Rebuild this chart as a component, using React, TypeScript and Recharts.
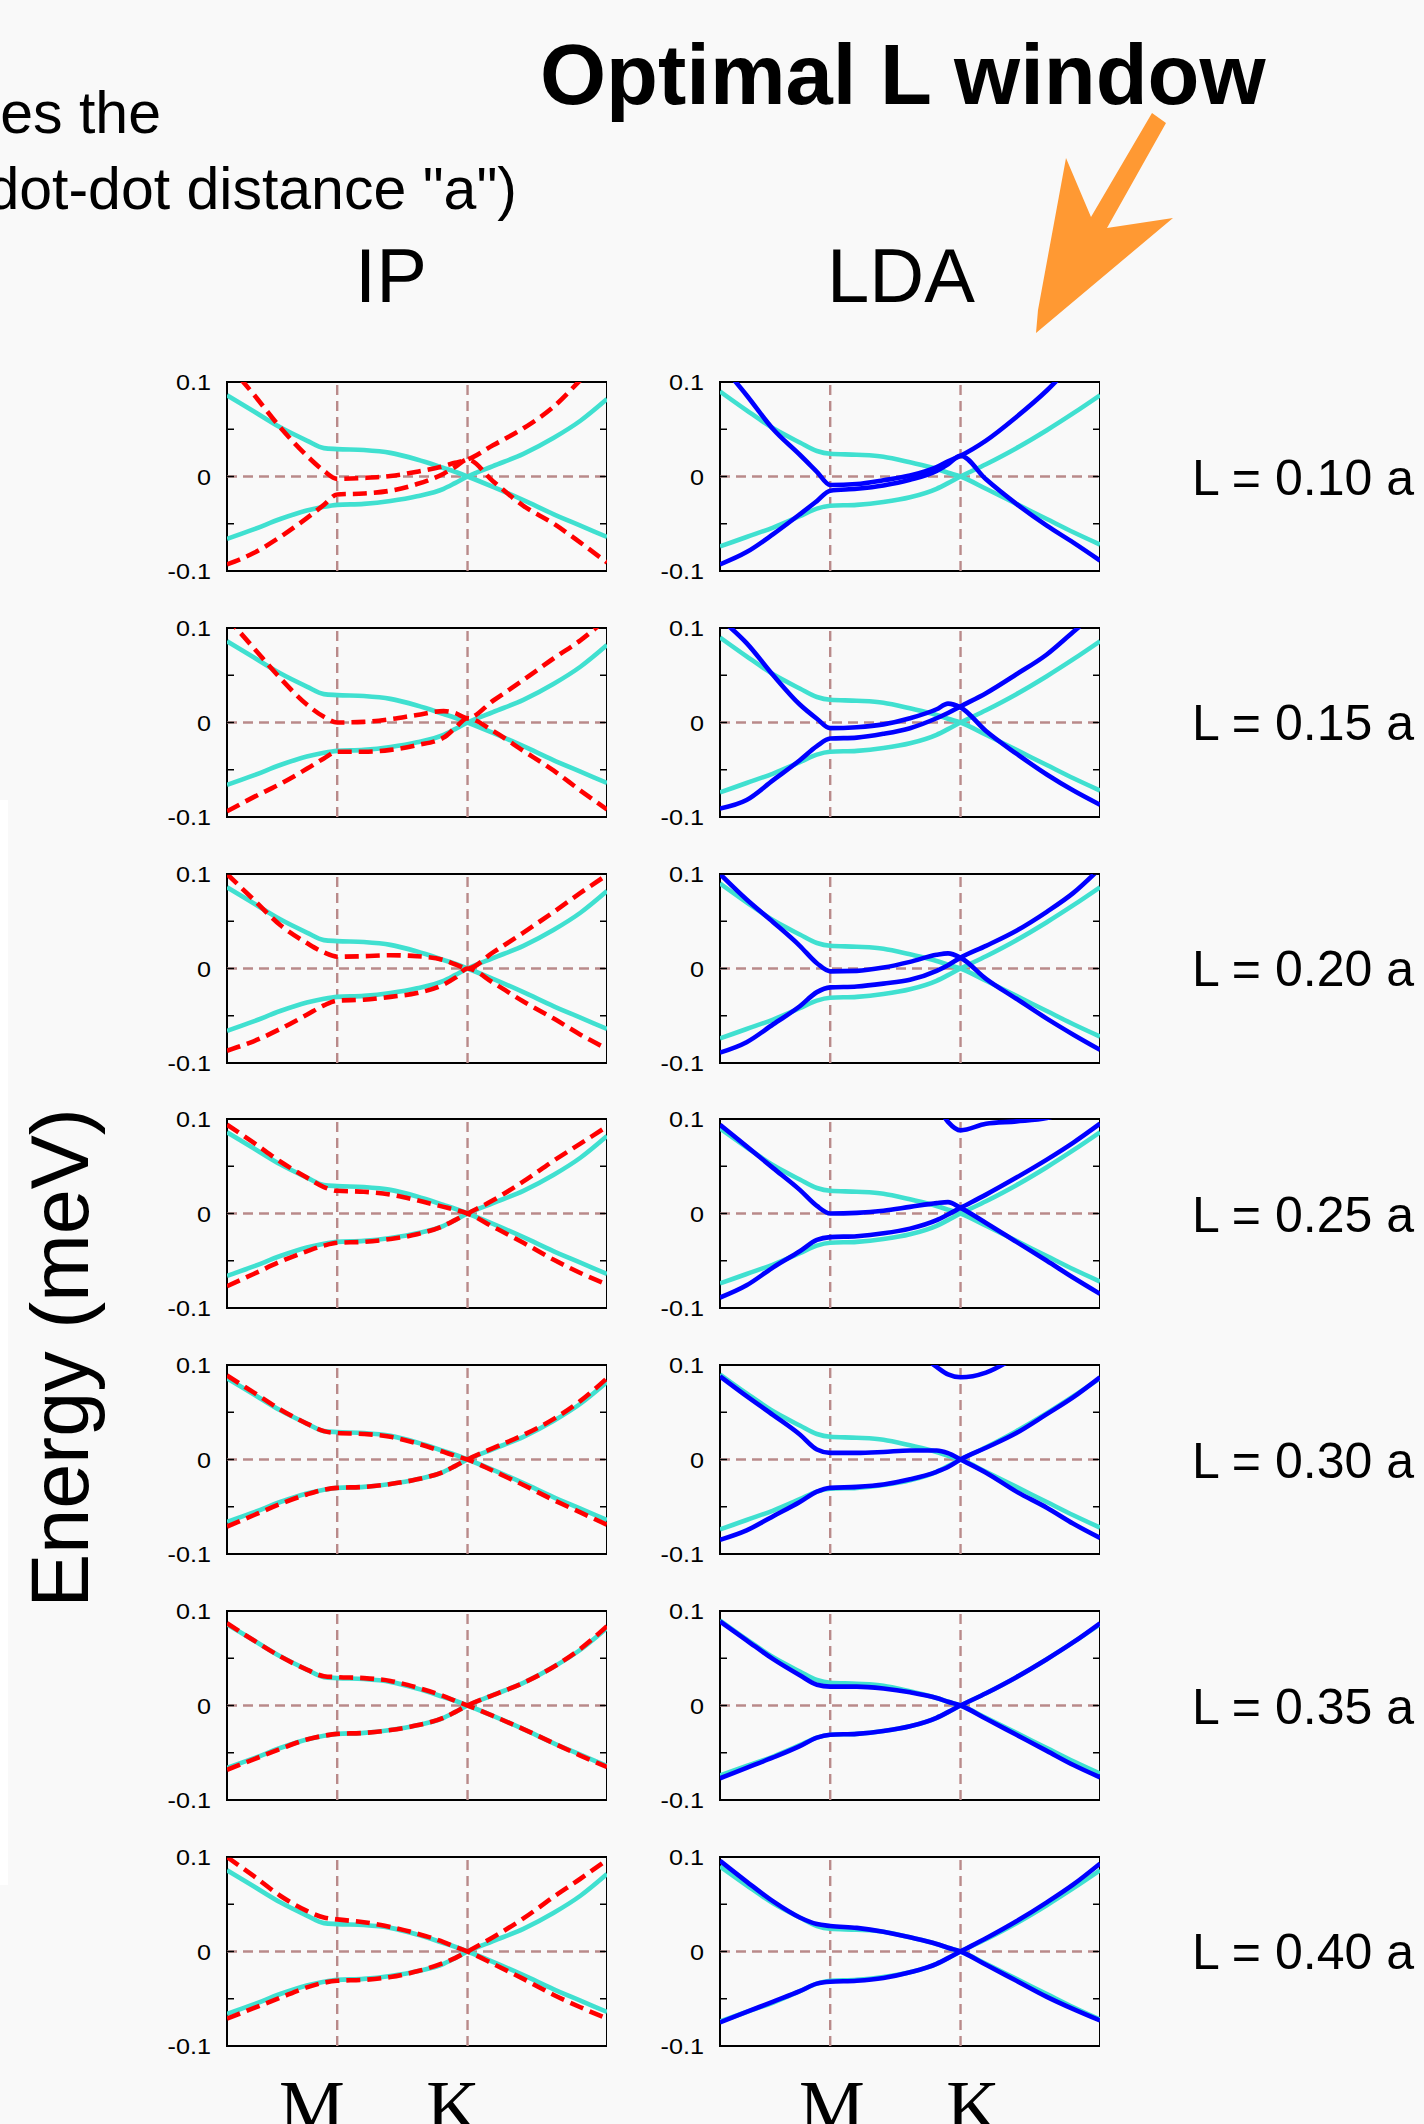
import React from 'react'
import { LineChart, Line, XAxis, YAxis, ReferenceLine, ReferenceArea } from 'recharts'

// k-path sample positions (0..1), M and K high-symmetry points
const KPATH = [0, 0.07, 0.14, 0.21, 0.255, 0.29, 0.36, 0.43, 0.5, 0.57, 0.6, 0.633, 0.7, 0.78, 0.86, 0.93, 1]
const M_POINT = 0.29
const K_POINT = 0.633
const Y_TICKS = [-0.1, -0.05, 0, 0.05, 0.1]
const L_LABELS = ['L = 0.10 a', 'L = 0.15 a', 'L = 0.20 a', 'L = 0.25 a', 'L = 0.30 a', 'L = 0.35 a', 'L = 0.40 a']

// reference bands (cyan)
const cyanIpUp = [0.086, 0.069, 0.052, 0.038, 0.03, 0.029, 0.028, 0.025, 0.018, 0.009, 0.005, 0, -0.011, -0.025, -0.04, -0.052, -0.064]
const cyanIpDn = [-0.066, -0.056, -0.045, -0.036, -0.032, -0.03, -0.029, -0.026, -0.021, -0.013, -0.007, 0, 0.011, 0.024, 0.041, 0.059, 0.082]
const cyanLdaUp = [0.09, 0.07, 0.051, 0.036, 0.027, 0.024, 0.023, 0.021, 0.015, 0.008, 0.004, 0, -0.013, -0.029, -0.045, -0.059, -0.072]
const cyanLdaDn = [-0.074, -0.064, -0.054, -0.042, -0.034, -0.031, -0.03, -0.027, -0.022, -0.013, -0.007, 0, 0.013, 0.03, 0.049, 0.067, 0.086]

// IP bands (red dashed)
const ipL10A = [0.12, 0.087, 0.052, 0.022, 0.006, -0.0025, -0.0015, 0.0005, 0.005, 0.011, 0.0145, 0.018, 0.033, 0.051, 0.074, 0.102, 0.13]
const ipL10B = [-0.093, -0.081, -0.064, -0.044, -0.03, -0.019, -0.018, -0.015, -0.008, 0.003, 0.01, 0.018, -0.005, -0.031, -0.05, -0.07, -0.091]
const ipL15A = [0.111, 0.079, 0.047, 0.019, 0.006, 0, 0.0007, 0.0035, 0.008, 0.012, 0.01, 0.0045, 0.023, 0.045, 0.068, 0.087, 0.11]
const ipL15B = [-0.094, -0.079, -0.065, -0.049, -0.038, -0.031, -0.031, -0.029, -0.024, -0.016, -0.006, 0.0045, -0.009, -0.03, -0.051, -0.072, -0.092]
const ipL20A = [0.1, 0.073, 0.046, 0.027, 0.017, 0.0125, 0.013, 0.014, 0.013, 0.009, 0.0045, 0, 0.017, 0.038, 0.06, 0.08, 0.099]
const ipL20B = [-0.087, -0.077, -0.064, -0.049, -0.039, -0.034, -0.033, -0.03, -0.026, -0.017, -0.01, 0, -0.015, -0.035, -0.053, -0.07, -0.085]
const ipL25A = [0.094, 0.075, 0.055, 0.038, 0.028, 0.024, 0.023, 0.02, 0.014, 0.007, 0.004, 0, -0.014, -0.031, -0.049, -0.063, -0.075]
const ipL25B = [-0.077, -0.064, -0.051, -0.04, -0.034, -0.031, -0.03, -0.027, -0.022, -0.013, -0.007, 0, 0.014, 0.034, 0.056, 0.074, 0.092]
const ipL30A = [0.089, 0.071, 0.053, 0.038, 0.03, 0.028, 0.027, 0.024, 0.017, 0.008, 0.004, 0, -0.012, -0.027, -0.043, -0.056, -0.069]
const ipL30B = [-0.071, -0.059, -0.047, -0.037, -0.032, -0.03, -0.029, -0.026, -0.021, -0.013, -0.007, 0, 0.012, 0.026, 0.043, 0.062, 0.086]
const ipL35A = [0.087, 0.069, 0.052, 0.038, 0.031, 0.03, 0.029, 0.026, 0.019, 0.01, 0.005, 0, -0.011, -0.025, -0.04, -0.053, -0.065]
const ipL35B = [-0.068, -0.057, -0.046, -0.036, -0.032, -0.03, -0.029, -0.026, -0.021, -0.013, -0.007, 0, 0.011, 0.024, 0.041, 0.06, 0.084]
const ipL40A = [0.1, 0.08, 0.059, 0.043, 0.036, 0.034, 0.031, 0.026, 0.019, 0.01, 0.005, 0, -0.013, -0.029, -0.046, -0.059, -0.071]
const ipL40B = [-0.071, -0.06, -0.049, -0.038, -0.033, -0.031, -0.03, -0.027, -0.021, -0.012, -0.007, 0, 0.015, 0.035, 0.058, 0.077, 0.097]

// LDA bands (blue)
const ldaL10A = [0.12, 0.086, 0.05, 0.023, 0.005, -0.009, -0.008, -0.004, 0.001, 0.01, 0.016, 0.022, 0.038, 0.063, 0.091, 0.12, 0.15]
const ldaL10B = [-0.093, -0.08, -0.061, -0.04, -0.026, -0.015, -0.013, -0.0095, -0.0035, 0.006, 0.013, 0.022, -0.003, -0.029, -0.052, -0.07, -0.089]
const ldaL15A = [0.11, 0.084, 0.05, 0.019, 0.004, -0.006, -0.005, -0.002, 0.0045, 0.014, 0.02, 0.016, -0.009, -0.033, -0.055, -0.072, -0.087]
const ldaL15B = [-0.091, -0.082, -0.061, -0.04, -0.025, -0.017, -0.016, -0.012, -0.006, 0.0045, 0.01, 0.017, 0.031, 0.051, 0.072, 0.096, 0.12]
const ldaL20A = [0.1, 0.073, 0.049, 0.024, 0.0056, -0.003, -0.0025, 0.001, 0.007, 0.0145, 0.016, 0.0115, -0.011, -0.032, -0.053, -0.07, -0.086]
const ldaL20B = [-0.089, -0.078, -0.059, -0.04, -0.025, -0.02, -0.019, -0.016, -0.012, -0.0025, 0.0035, 0.0115, 0.024, 0.04, 0.06, 0.08, 0.106]
const ldaL25A = [0.094, 0.071, 0.048, 0.025, 0.008, 0, 0.0007, 0.003, 0.007, 0.011, 0.012, 0.006, -0.01, -0.03, -0.05, -0.068, -0.085]
const ldaL25B = [-0.089, -0.076, -0.057, -0.04, -0.028, -0.025, -0.024, -0.021, -0.016, -0.007, -0.001, 0.006, 0.02, 0.038, 0.057, 0.075, 0.095]
const ldaL25C = [null, null, null, null, null, null, null, null, null, 0.115, 0.097, 0.088, 0.095, 0.0975, 0.101, 0.11, null]
const ldaL30A = [0.088, 0.067, 0.047, 0.0265, 0.0106, 0.007, 0.007, 0.008, 0.0095, 0.0095, 0.0067, 0, -0.014, -0.034, -0.051, -0.068, -0.083]
const ldaL30B = [-0.085, -0.075, -0.06, -0.045, -0.034, -0.03, -0.029, -0.0265, -0.021, -0.013, -0.008, 0, 0.0124, 0.028, 0.048, 0.066, 0.087]
const ldaL30C = [null, null, null, null, null, null, null, null, 0.12, 0.098, 0.09, 0.087, 0.092, 0.109, null, null, null]
const ldaL35A = [0.089, 0.069, 0.049, 0.032, 0.022, 0.02, 0.02, 0.018, 0.014, 0.008, 0.004, 0, -0.014, -0.031, -0.048, -0.063, -0.076]
const ldaL35B = [-0.077, -0.066, -0.055, -0.043, -0.034, -0.031, -0.03, -0.027, -0.022, -0.013, -0.007, 0, 0.013, 0.03, 0.049, 0.067, 0.087]
const ldaL40A = [0.096, 0.074, 0.053, 0.036, 0.029, 0.027, 0.025, 0.021, 0.015, 0.008, 0.004, 0, -0.014, -0.031, -0.048, -0.061, -0.073]
const ldaL40B = [-0.075, -0.064, -0.053, -0.042, -0.034, -0.032, -0.031, -0.028, -0.022, -0.013, -0.007, 0, 0.014, 0.032, 0.052, 0.071, 0.093]

const IP_ROWS = [[ipL10A, ipL10B], [ipL15A, ipL15B], [ipL20A, ipL20B], [ipL25A, ipL25B], [ipL30A, ipL30B], [ipL35A, ipL35B], [ipL40A, ipL40B]]
const LDA_ROWS = [
  [ldaL10A, ldaL10B, null],
  [ldaL15A, ldaL15B, null],
  [ldaL20A, ldaL20B, null],
  [ldaL25A, ldaL25B, ldaL25C],
  [ldaL30A, ldaL30B, ldaL30C],
  [ldaL35A, ldaL35B, null],
  [ldaL40A, ldaL40B, null],
]

const SANS = '"Liberation Sans", Arial, Helvetica, sans-serif'
const SERIF = '"Liberation Serif", "Times New Roman", serif'
const GRID = '#b98a8a'
const FRAME_W = 380
const FRAME_H = 189
const AXIS_W = 60
const PAD = 16
const FIRST_TOP = 382
const ROW_STEP = 245.8
const LW = 4.6

function LeftTick(props: any) {
  const { x, y, payload } = props
  const v = payload.value
  const major = Math.abs(Math.abs(v) - 0.1) < 1e-6 || Math.abs(v) < 1e-6
  const label = Math.abs(v) < 1e-6 ? '0' : v > 0 ? '0.1' : '-0.1'
  const fx = x + 16
  return (
    <g>
      {major && (
        <text transform={`translate(${x},${y + 8}) scale(1.12,1)`} textAnchor="end" fontSize={22.5} fontFamily={SANS} fill="#000">
          {label}
        </text>
      )}
      <line x1={fx} x2={fx + 7} y1={y} y2={y} stroke="#000" strokeWidth={1.5} />
      <line x1={fx + FRAME_W} x2={fx + FRAME_W - 7} y1={y} y2={y} stroke="#000" strokeWidth={1.5} />
    </g>
  )
}

interface PanelProps {
  left: number
  top: number
  cyanUp: number[]
  cyanDn: number[]
  a: number[]
  b: number[]
  c: (number | null)[] | null
  kind: 'ip' | 'lda'
}

function Panel({ left, top, cyanUp, cyanDn, a, b, c, kind }: PanelProps) {
  const data = KPATH.map((k, i) => ({
    k,
    cu: cyanUp[i],
    cd: cyanDn[i],
    a: a[i],
    b: b[i],
    c: c ? c[i] : null,
  }))
  const color = kind === 'ip' ? '#ff0000' : '#0000ff'
  const dash = kind === 'ip' ? '14 7' : undefined

  return (
    <div style={{ position: 'absolute', left: left - AXIS_W, top: top - PAD }}>
      <LineChart
        width={AXIS_W + FRAME_W}
        height={FRAME_H + 2 * PAD}
        data={data}
        margin={{ top: PAD, right: 0, bottom: PAD, left: 0 }}
      >
        <XAxis xAxisId="b" dataKey="k" type="number" domain={[0, 1]} allowDataOverflow hide />
        <YAxis
          yAxisId="l"
          type="number"
          domain={[-0.1, 0.1]}
          allowDataOverflow
          ticks={Y_TICKS}
          interval={0}
          tick={<LeftTick />}
          tickLine={false}
          tickSize={6}
          tickMargin={10}
          width={AXIS_W}
          axisLine={false}
        />
        <ReferenceLine xAxisId="b" yAxisId="l" x={M_POINT} stroke={GRID} strokeWidth={2.4} strokeDasharray="10 6" />
        <ReferenceLine xAxisId="b" yAxisId="l" x={K_POINT} stroke={GRID} strokeWidth={2.4} strokeDasharray="10 6" />
        <ReferenceLine xAxisId="b" yAxisId="l" y={0} stroke={GRID} strokeWidth={2.4} strokeDasharray="10 6" />
        <Line xAxisId="b" yAxisId="l" type="monotone" dataKey="cu" stroke="#40e0d0" strokeWidth={LW} dot={false} activeDot={false} isAnimationActive={false} />
        <Line xAxisId="b" yAxisId="l" type="monotone" dataKey="cd" stroke="#40e0d0" strokeWidth={LW} dot={false} activeDot={false} isAnimationActive={false} />
        <Line xAxisId="b" yAxisId="l" type="monotone" dataKey="a" stroke={color} strokeWidth={LW} strokeDasharray={dash} dot={false} activeDot={false} isAnimationActive={false} />
        <Line xAxisId="b" yAxisId="l" type="monotone" dataKey="b" stroke={color} strokeWidth={LW} strokeDasharray={dash} dot={false} activeDot={false} isAnimationActive={false} />
        {c && (
          <Line xAxisId="b" yAxisId="l" type="monotone" dataKey="c" stroke={color} strokeWidth={LW} dot={false} activeDot={false} connectNulls={false} isAnimationActive={false} />
        )}
        <ReferenceArea xAxisId="b" yAxisId="l" x1={0} x2={1} y1={-0.1} y2={0.1} fill="none" fillOpacity={0} stroke="#000" strokeWidth={2} ifOverflow="visible" />
      </LineChart>
    </div>
  )
}

export default function App() {
  const ipLeft = 226.7
  const ldaLeft = 719.5
  return (
    <div
      style={{
        position: 'absolute',
        left: 0,
        top: 0,
        width: 1424,
        height: 2124,
        background: '#f9f9f9',
        overflow: 'hidden',
        fontFamily: SANS,
      }}
    >
      <svg width={1424} height={2124} style={{ position: 'absolute', left: 0, top: 0 }}>
        <rect x={0} y={800} width={8} height={1085} fill="#ffffff" />
        <text x={540} y={104} fontSize={85} fontWeight="bold" fontFamily={SANS} fill="#000">
          Optimal L window
        </text>
        <text x={161} y={133} fontSize={59} textAnchor="end" fontFamily={SANS} fill="#000">
          es the
        </text>
        <text x={517} y={209} fontSize={59} textAnchor="end" fontFamily={SANS} fill="#000">
          dot-dot distance "a")
        </text>
        <text x={391} y={302} fontSize={76} textAnchor="middle" fontFamily={SANS} fill="#000">
          IP
        </text>
        <text x={901} y={302} fontSize={76} textAnchor="middle" fontFamily={SANS} fill="#000">
          LDA
        </text>
        <polygon
          points="1152,113 1166,123 1107,228 1173,218 1036,333 1038,310 1066,158 1091,217"
          fill="#ff9933"
        />
        <text
          x={88}
          y={1358}
          fontSize={81}
          textAnchor="middle"
          fontFamily={SANS}
          fill="#000"
          transform="rotate(-90 88 1358)"
        >
          Energy (meV)
        </text>
        {L_LABELS.map((t, i) => (
          <text key={t} x={1192} y={FIRST_TOP + i * ROW_STEP + FRAME_H / 2 + 18} fontSize={50} fontFamily={SANS} fill="#000">
            {t}
          </text>
        ))}
        <text x={312} y={2132} fontSize={74} textAnchor="middle" fontFamily={SERIF} fill="#000">M</text>
        <text x={453} y={2132} fontSize={74} textAnchor="middle" fontFamily={SERIF} fill="#000">K</text>
        <text x={832} y={2132} fontSize={74} textAnchor="middle" fontFamily={SERIF} fill="#000">M</text>
        <text x={973} y={2132} fontSize={74} textAnchor="middle" fontFamily={SERIF} fill="#000">K</text>
      </svg>
      {IP_ROWS.map(([a, b], i) => (
        <Panel
          key={`ip-${i}`}
          left={ipLeft}
          top={FIRST_TOP + i * ROW_STEP}
          cyanUp={cyanIpUp}
          cyanDn={cyanIpDn}
          a={a}
          b={b}
          c={null}
          kind="ip"
        />
      ))}
      {LDA_ROWS.map(([a, b, c], i) => (
        <Panel
          key={`lda-${i}`}
          left={ldaLeft}
          top={FIRST_TOP + i * ROW_STEP}
          cyanUp={cyanLdaUp}
          cyanDn={cyanLdaDn}
          a={a as number[]}
          b={b as number[]}
          c={c as (number | null)[] | null}
          kind="lda"
        />
      ))}
    </div>
  )
}
